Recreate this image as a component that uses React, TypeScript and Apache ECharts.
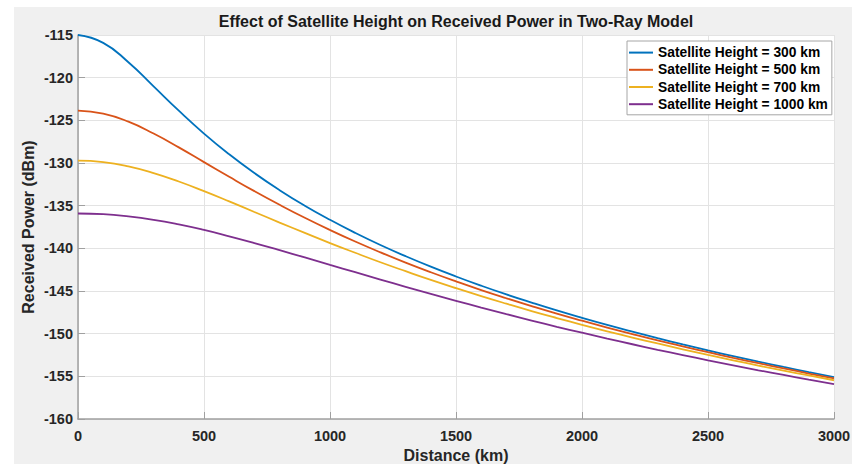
import React, { useEffect, useRef } from "react";
import * as echarts from "echarts";

const distances = [0, 100, 200, 300, 400, 500, 600, 700, 800, 900, 1000, 1100, 1200, 1300, 1400, 1500, 1600, 1700, 1800, 1900, 2000, 2100, 2200, 2300, 2400, 2500, 2600, 2700, 2800, 2900, 3000];

const h300 = [-115.0, -115.92, -118.19, -121.02, -123.87, -126.55, -128.98, -131.18, -133.18, -135.0, -136.66, -138.19, -139.61, -140.92, -142.15, -143.3, -144.38, -145.4, -146.36, -147.28, -148.15, -148.98, -149.77, -150.53, -151.26, -151.96, -152.63, -153.28, -153.9, -154.5, -155.09];
const h500 = [-123.87, -124.22, -125.16, -126.55, -128.17, -129.9, -131.62, -133.3, -134.9, -136.42, -137.85, -139.2, -140.47, -141.67, -142.8, -143.87, -144.89, -145.85, -146.77, -147.65, -148.48, -149.28, -150.05, -150.79, -151.49, -152.17, -152.83, -153.46, -154.07, -154.67, -155.24];
const h700 = [-129.72, -129.89, -130.4, -131.18, -132.17, -133.3, -134.5, -135.74, -136.98, -138.19, -139.38, -140.52, -141.63, -142.68, -143.7, -144.67, -145.6, -146.49, -147.35, -148.17, -148.96, -149.72, -150.45, -151.15, -151.83, -152.49, -153.12, -153.74, -154.33, -154.9, -155.46];
const h1000 = [-135.92, -136.0, -136.26, -136.66, -137.2, -137.85, -138.59, -139.38, -140.21, -141.07, -141.94, -142.8, -143.66, -144.51, -145.34, -146.15, -146.94, -147.71, -148.46, -149.19, -149.89, -150.58, -151.24, -151.89, -152.51, -153.12, -153.71, -154.29, -154.84, -155.39, -155.92];

const seriesNames = [
  "Satellite Height = 300 km",
  "Satellite Height = 500 km",
  "Satellite Height = 700 km",
  "Satellite Height = 1000 km",
];
const seriesValues = [h300, h500, h700, h1000];
const colors = ["#0072BD", "#D95319", "#EDB120", "#7E2F8E"];

const FONT = "'Liberation Sans', Arial, Helvetica, sans-serif";

export default function App() {
  const ref = useRef<HTMLDivElement>(null);
  useEffect(() => {
    if (!ref.current) return;
    const chart = echarts.init(ref.current, null, { renderer: "svg" });
    const option = {
      animation: false,
      backgroundColor: "#ffffff",
      color: colors,
      graphic: [
        {
          type: "rect",
          z: -10,
          silent: true,
          shape: { x: 14, y: 7, width: 852 - 14, height: 464 - 7 },
          style: { fill: "#f0f0f0" },
        },
      ],
      title: {
        text: "Effect of Satellite Height on Received Power in Two-Ray Model",
        left: 456,
        textAlign: "center",
        top: 13,
        padding: 0,
        textStyle: { fontFamily: FONT, fontSize: 16, fontWeight: "bold", color: "#1a1a1a" },
      },
      legend: {
        orient: "vertical",
        left: 627,
        top: 41,
        padding: [3, 4, 2, 2],
        itemGap: 0,
        itemWidth: 24,
        itemHeight: 2,
        icon: "rect",
        backgroundColor: "#ffffff",
        borderColor: "#a6a6a6",
        borderWidth: 1,
        borderRadius: 0,
        data: seriesNames,
        textStyle: {
          fontFamily: FONT,
          fontSize: 13.8,
          fontWeight: "bold",
          color: "#000000",
          lineHeight: 17.2,
          padding: 0,
        },
      },
      grid: {
        left: 78,
        right: 18,
        top: 35,
        bottom: 45,
        show: true,
        backgroundColor: "#ffffff",
        borderWidth: 0,
        outerBoundsMode: "none",
        containLabel: false,
      },
      xAxis: {
        type: "value",
        min: 0,
        max: 3000,
        interval: 500,
        name: "Distance (km)",
        nameLocation: "middle",
        nameGap: 28,
        nameMoveOverlap: false,
        nameTextStyle: { fontFamily: FONT, fontSize: 16, fontWeight: "bold", color: "#262626" },
        axisLine: { show: true, lineStyle: { color: "#a0a0a0", width: 1.5 } },
        axisTick: { show: true, inside: true, length: 7, lineStyle: { color: "#a0a0a0" } },
        axisLabel: {
          margin: 9,
          fontFamily: FONT,
          fontSize: 14.5,
          fontWeight: "bold",
          color: "#262626",
          formatter: (v: number) => String(v),
        },
        splitLine: { show: true, lineStyle: { color: "#e3e3e3", width: 1 } },
      },
      yAxis: {
        type: "value",
        min: -160,
        max: -115,
        interval: 5,
        name: "Received Power (dBm)",
        nameLocation: "middle",
        nameGap: 42,
        nameMoveOverlap: false,
        nameTextStyle: { fontFamily: FONT, fontSize: 16, fontWeight: "bold", color: "#262626" },
        axisLine: { show: true, lineStyle: { color: "#a0a0a0", width: 1.5 } },
        axisTick: { show: true, inside: true, length: 7, lineStyle: { color: "#a0a0a0" } },
        axisLabel: {
          margin: 5,
          fontFamily: FONT,
          fontSize: 14.5,
          fontWeight: "bold",
          color: "#262626",
          formatter: (v: number) => String(v),
        },
        splitLine: { show: true, lineStyle: { color: "#e3e3e3", width: 1 } },
      },
      series: seriesValues.map((vals, i) => ({
        name: seriesNames[i],
        type: "line",
        showSymbol: false,
        symbol: "none",
        smooth: 0.5,
        lineStyle: { width: 1.8, color: colors[i] },
        itemStyle: { color: colors[i] },
        data: distances.map((d, j) => [d, vals[j]]),
      })),
    };
    chart.setOption(option);
    return () => chart.dispose();
  }, []);
  return (
    <div
      ref={ref}
      style={{ position: "fixed", left: 0, top: 0, width: 852, height: 464 }}
    />
  );
}
